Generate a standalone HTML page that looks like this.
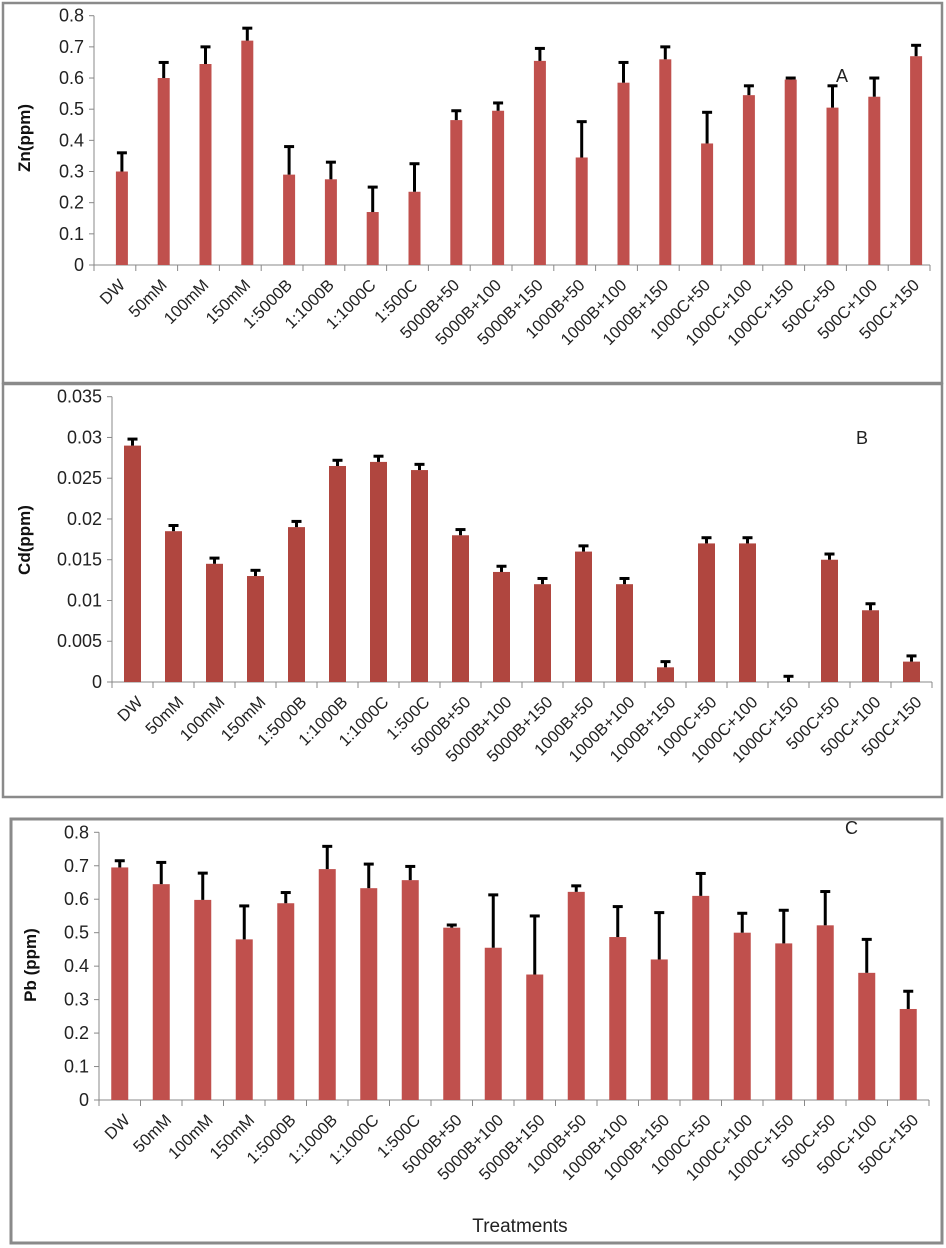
<!DOCTYPE html>
<html><head><meta charset="utf-8"><style>
html,body{margin:0;padding:0;background:#fff;}
svg{display:block;font-family:"Liberation Sans",sans-serif;}
</style></head><body>
<svg id="fig" width="946" height="1248" viewBox="0 0 946 1248" xmlns="http://www.w3.org/2000/svg"></svg>
<script>
const categories = ["DW","50mM","100mM","150mM","1:5000B","1:1000B","1:1000C","1:500C","5000B+50","5000B+100","5000B+150","1000B+50","1000B+100","1000B+150","1000C+50","1000C+100","1000C+150","500C+50","500C+100","500C+150"];
const znValues = [0.30,0.60,0.645,0.72,0.29,0.275,0.17,0.235,0.465,0.495,0.655,0.345,0.585,0.66,0.39,0.545,0.595,0.505,0.54,0.67];
const znErrTop = [0.36,0.65,0.70,0.76,0.38,0.33,0.25,0.325,0.495,0.52,0.695,0.46,0.65,0.70,0.49,0.575,0.60,0.575,0.60,0.705];
const cdValues = [0.029,0.0185,0.0145,0.013,0.019,0.0265,0.027,0.026,0.018,0.0135,0.012,0.016,0.012,0.0018,0.017,0.017,0,0.015,0.0088,0.0025];
const cdErrTop = [0.0298,0.0192,0.0152,0.0137,0.0197,0.0272,0.0277,0.0267,0.0187,0.0142,0.0127,0.0167,0.0127,0.0025,0.0177,0.0177,0.0007,0.0157,0.0096,0.0032];
const pbValues = [0.695,0.645,0.598,0.48,0.588,0.69,0.633,0.657,0.515,0.455,0.375,0.622,0.487,0.42,0.61,0.50,0.468,0.522,0.38,0.272];
const pbErrTop = [0.715,0.71,0.678,0.58,0.62,0.758,0.705,0.698,0.523,0.613,0.55,0.64,0.578,0.56,0.677,0.558,0.567,0.623,0.48,0.325];
const znTicks = ["0","0.1","0.2","0.3","0.4","0.5","0.6","0.7","0.8"];
const cdTicks = ["0","0.005","0.01","0.015","0.02","0.025","0.03","0.035"];
const pbTicks = ["0","0.1","0.2","0.3","0.4","0.5","0.6","0.7","0.8"];

const NS = "http://www.w3.org/2000/svg";
const svg = document.getElementById('fig');
function mk(tag, attrs, parent, txt){
  const e = document.createElementNS(NS, tag);
  for (const k in attrs) e.setAttribute(k, attrs[k]);
  if (txt !== undefined) e.textContent = txt;
  parent.appendChild(e);
  return e;
}

function panel(cfg){
  const g = mk('g', {}, svg);
  
  
  const frame = mk('rect', {x:cfg.box[0], y:cfg.box[1], width:cfg.box[2], height:cfg.box[3], fill:'none', stroke:'#8a8a8a', 'stroke-width':cfg.bw}, g);
  
  
  const x0 = cfg.x0, x1 = cfg.x1, y0 = cfg.y0, yTop = cfg.yTop, maxV = cfg.max;
  const yScale = v => y0 - (v / maxV) * (y0 - yTop);
  const step = (x1 - x0) / categories.length;
  const xc = i => x0 + step * (i + 0.5);
  const ya = mk('line', {x1:x0, y1:yTop, x2:x0, y2:y0, stroke:'#888', 'stroke-width':1}, g);
  
  
  cfg.ticks.forEach((t, i) => {
    const v = maxV * i / (cfg.ticks.length - 1);
    const y = yScale(v);
    mk('line', {x1:x0-5, y1:y, x2:x0, y2:y, stroke:'#888'}, g);
    const tl = mk('text', {x:x0-10, y:y+6, 'text-anchor':'end', 'font-size':18, fill:'#222'}, g, t);
    
    
  });
  const xa = mk('line', {x1:x0, y1:y0, x2:x1, y2:y0, stroke:'#888', 'stroke-width':1}, g);
  
  
  for (let i = 0; i <= categories.length; i++){
    const x = x0 + step * i;
    mk('line', {x1:x, y1:y0, x2:x, y2:y0+6, stroke:'#888'}, g);
  }
  categories.forEach((c, i) => {
    const cx = xc(i) + cfg.off;
    const v = cfg.vals[i], e = cfg.err[i];
    const yb = yScale(v), ye = yScale(e);
    const bar = mk('rect', {x:cx - cfg.bwid/2, y:yb, width:cfg.bwid, height:Math.max(0, y0 - yb), fill:cfg.color}, g);
    
    
    const eb = mk('g', {}, g);
    
    
    mk('line', {x1:cx, y1:yb, x2:cx, y2:ye, stroke:'#000', 'stroke-width':3}, eb);
    mk('line', {x1:cx-5, y1:ye, x2:cx+5, y2:ye, stroke:'#000', 'stroke-width':3}, eb);
    const lx = xc(i) + 7, ly = y0 + 17;
    const tl = mk('text', {transform:`translate(${lx},${ly}) rotate(-45)`, 'text-anchor':'end', 'font-size':16.5, fill:'#222', dy:'0.35em'}, g, c);
    
    
  });
  const tt = mk('text', {transform:`translate(${cfg.titlePos[0]},${cfg.titlePos[1]}) rotate(-90)`, 'text-anchor':'middle', 'font-size':17, 'font-weight':'bold', fill:'#111'}, g, cfg.title);
  
  
  const pl = mk('text', {x:cfg.letterPos[0], y:cfg.letterPos[1], 'font-size':18, fill:'#222'}, g, cfg.letter);
  
  
}

panel({name:'panel-a-zn', box:[3,3,939,380], bw:2.5, x0:94, x1:930, y0:265, yTop:15.7, max:0.8,
  ticks:znTicks, vals:znValues, err:znErrTop, bwid:12, off:7, color:'#c0504d',
  title:'Zn(ppm)', titlePos:[30,138], letter:'A', letterPos:[836,82]});
panel({name:'panel-b-cd', box:[3,384,939,413], bw:2.5, x0:112, x1:932, y0:682, yTop:396.7, max:0.035,
  ticks:cdTicks, vals:cdValues, err:cdErrTop, bwid:17, off:0, color:'#b0463f',
  title:'Cd(ppm)', titlePos:[30,540], letter:'B', letterPos:[856,444]});
panel({name:'panel-c-pb', box:[11,819,931,424], bw:3, x0:99, x1:929, y0:1100, yTop:832.3, max:0.8,
  ticks:pbTicks, vals:pbValues, err:pbErrTop, bwid:17, off:0, color:'#c0504d',
  title:'Pb (ppm)', titlePos:[36,965], letter:'C', letterPos:[845,834]});

const xt = mk('text', {x:520, y:1232, 'text-anchor':'middle', 'font-size':19, fill:'#222'}, svg, 'Treatments');


</script>
</body></html>
